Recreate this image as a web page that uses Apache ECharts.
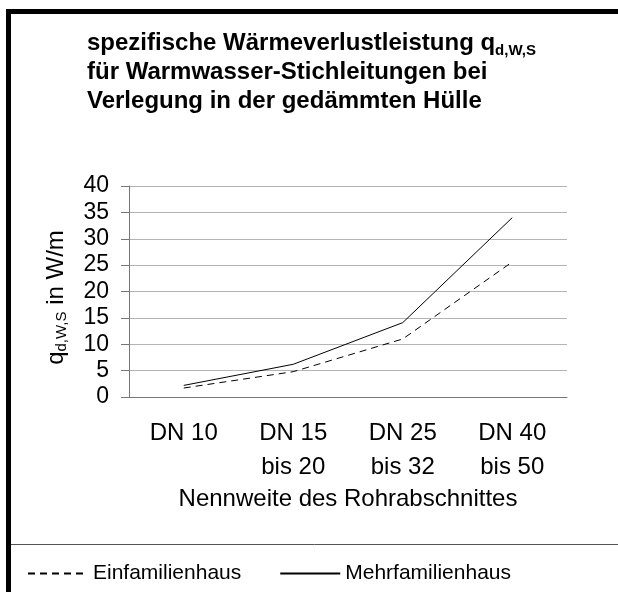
<!DOCTYPE html>
<html>
<head>
<meta charset="utf-8">
<script src="https://cdn.jsdelivr.net/npm/echarts@6/dist/echarts.min.js"></script>
<style>
html, body { margin: 0; padding: 0; background: #fff; }
#tu { width: 618px; height: 592px; }
</style>
</head>
<body>
<div id="tu"></div>
<script>
var categories = ['DN 10', 'DN 15\nbis 20', 'DN 25\nbis 32', 'DN 40\nbis 50'];
var einfamilienhaus = [1.7, 4.8, 11.0, 25.6];
var mehrfamilienhaus = [2.2, 6.2, 14.1, 34.0];
var yTicks = { min: 0, max: 40, step: 5 };

var font = '"Liberation Sans", Arial, sans-serif';
var myChart = echarts.init(document.getElementById('tu'));

var option = {
    backgroundColor: '#fff',
    animation: false,
    title: {
        left: 82,
        top: 24,
        text: '{a|spezifische Wärmeverlustleistung q}{s|d,W,S}\n{a|für Warmwasser-Stichleitungen bei}\n{a|Verlegung in der gedämmten Hülle}',
        textStyle: {
            fontFamily: font,
            rich: {
                a: { fontFamily: font, fontSize: 24, fontWeight: 'bold', color: '#000', lineHeight: 29 },
                s: { fontFamily: font, fontSize: 15, fontWeight: 'bold', color: '#000', lineHeight: 14, verticalAlign: 'bottom' }
            }
        }
    },
    grid: { left: 129, right: 51, top: 186, bottom: 195 },
    xAxis: {
        type: 'category',
        data: categories,
        name: 'Nennweite des Rohrabschnittes',
        nameLocation: 'middle',
        nameGap: 90,
        nameTextStyle: { fontFamily: font, fontSize: 24, color: '#000' },
        axisLine: { lineStyle: { color: '#777', width: 1 } },
        axisTick: { length: 6, lineStyle: { color: '#777' } },
        axisLabel: { fontFamily: font, fontSize: 24, color: '#000', margin: 19, lineHeight: 34, interval: 0 }
    },
    yAxis: {
        type: 'value',
        min: yTicks.min,
        max: yTicks.max,
        interval: yTicks.step,
        name: '{q|q}{s|d,W,S}{q| in W/m}',
        nameLocation: 'middle',
        nameRotate: 90,
        nameGap: 60,
        nameTextStyle: {
            fontFamily: font,
            padding: [0, 12, 0, 0],
            rich: {
                q: { fontFamily: font, fontSize: 24, color: '#000', lineHeight: 26 },
                s: { fontFamily: font, fontSize: 15, color: '#000', lineHeight: 14, verticalAlign: 'bottom' }
            }
        },
        axisLine: { show: true, lineStyle: { color: '#777', width: 1 } },
        axisTick: { show: true, length: 8, lineStyle: { color: '#777' } },
        axisLabel: { fontFamily: font, fontSize: 23, color: '#000', margin: 20 },
        splitLine: { lineStyle: { color: '#b4b4b4', width: 1 } }
    },
    legend: {
        left: 27,
        top: 563,
        padding: 0,
        itemWidth: 60,
        itemHeight: 20,
        itemGap: 38,
        itemStyle: { opacity: 0 },
        textStyle: { fontFamily: font, fontSize: 21, color: '#000' },
        data: ['Einfamilienhaus', 'Mehrfamilienhaus']
    },
    series: [
        {
            name: 'Einfamilienhaus',
            type: 'line',
            data: einfamilienhaus,
            symbol: 'none',
            color: '#000',
            lineStyle: { color: '#000', width: 1, type: [7, 5] }
        },
        {
            name: 'Mehrfamilienhaus',
            type: 'line',
            data: mehrfamilienhaus,
            symbol: 'none',
            color: '#000',
            lineStyle: { color: '#000', width: 1 }
        }
    ],
    graphic: [
        { type: 'rect', shape: { x: 6, y: 9, width: 612, height: 5 }, style: { fill: '#000' } },
        { type: 'rect', shape: { x: 6, y: 9, width: 5, height: 583 }, style: { fill: '#000' } },
        { type: 'line', shape: { x1: 11, y1: 544.5, x2: 618, y2: 544.5 }, style: { stroke: '#555', lineWidth: 1 } }
    ]
};

myChart.setOption(option);
</script>
</body>
</html>
